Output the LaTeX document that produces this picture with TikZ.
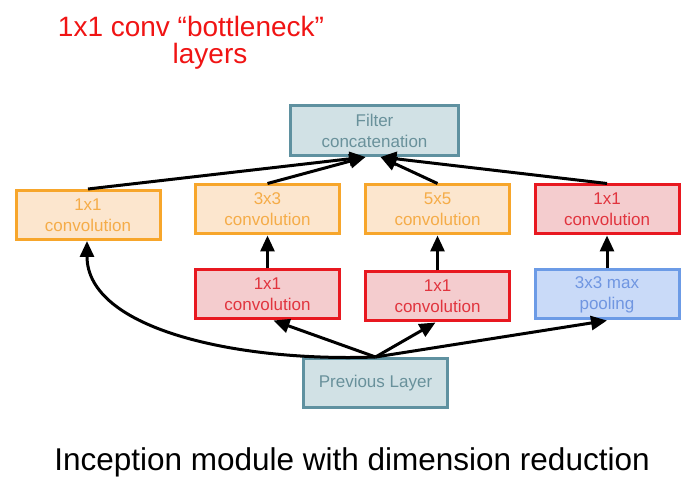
\documentclass[tikz,border=0pt]{standalone}
\usepackage{fontspec}
\setmainfont{Liberation Sans}
\usepackage{xcolor}
\definecolor{convline}{RGB}{247,166,43}
\definecolor{convfill}{RGB}{252,230,206}
\definecolor{convtext}{RGB}{245,172,72}
\definecolor{redline}{RGB}{232,24,32}
\definecolor{redfill}{RGB}{244,204,206}
\definecolor{redtext}{RGB}{225,52,62}
\definecolor{poolline}{RGB}{108,155,230}
\definecolor{poolfill}{RGB}{201,218,248}
\definecolor{pooltext}{RGB}{112,150,225}
\definecolor{tealline}{RGB}{95,145,160}
\definecolor{tealfill}{RGB}{209,225,229}
\definecolor{tealtext}{RGB}{105,145,155}
\definecolor{titlered}{RGB}{240,20,20}
\usetikzlibrary{positioning,arrows.meta}

\begin{document}
\begin{tikzpicture}[x=1pt, y=-1pt, node distance = 33pt,
	layer/.style={
					rectangle, minimum width = 144pt, minimum height = 49pt, line width = 3pt,
					inner sep = 0pt, align = center, font = \fontsize{17}{21}\selectfont},
	conv/.style={layer, draw = convline, fill = convfill, text = convtext},
	reduce/.style={layer, draw = redline, fill = redfill, text = redtext},
	pool/.style={layer, draw = poolline, fill = poolfill, text = pooltext},
	merge/.style={layer, draw = tealline, fill = tealfill, text = tealtext},
	link/.style={line width = 3pt, -{Triangle[length=16pt, width=14pt]}}]
		\useasboundingbox (0,0) rectangle (694,486);
		% title and caption
		\node (T) [anchor=base, text = titlered, font = \fontsize{28}{30}\selectfont] at (191,37) {1x1 conv “bottleneck”};
		\node (TT) [anchor=base, text = titlered, font = \fontsize{28}{30}\selectfont] at (210,64) {layers};
		\node (cap) [anchor=base, font = \fontsize{31.5}{34}\selectfont] at (352,470) {Inception module with dimension reduction};
		% boxes
		\node (F) [merge, minimum width = 168pt, minimum height = 50pt] at (374.5,130.5) {Filter\\concatenation};
		\node (A) [conv] at (88,215) {1x1\\convolution};
		\node (B) [conv] at (267.5,209.5) {3x3\\convolution};
		\node (C) [conv] at (437.5,209.5) {5x5\\convolution};
		\node (D) [reduce] at (607,209.5) {1x1\\convolution};
		\node (BB) [reduce, below = 33pt of B] {1x1\\convolution};
		\node (CC) [reduce, below = 35pt of C] {1x1\\convolution};
		\node (DD) [pool, below = 33pt of D] {3x3 max\\pooling};
		\node (P) [merge] at (375.5,383) {Previous Layer};
		% connectors
		\draw [link] (A.north) -- ([xshift=-9pt]F.south);
		\draw [link] (B.north) -- ([xshift=-9pt]F.south);
		\draw [link] (C.north) -- ([xshift=6pt]F.south);
		\draw [link] (D.north) -- ([xshift=6pt]F.south);
		\draw [link] (BB) -- (B);
		\draw [link] (CC) -- (C);
		\draw [link] (DD) -- (D);
		\draw [link] (P.north) .. controls +(-136,5) and +(0,89) .. ([xshift=-1pt]A.south);
		\draw [link] (P.north) -- ([xshift=6pt]BB.south);
		\draw [link] (P.north) -- ([xshift=-2pt]CC.south);
		\draw [link] (P.north) -- (DD.south);
	\end{tikzpicture}
\end{document}
